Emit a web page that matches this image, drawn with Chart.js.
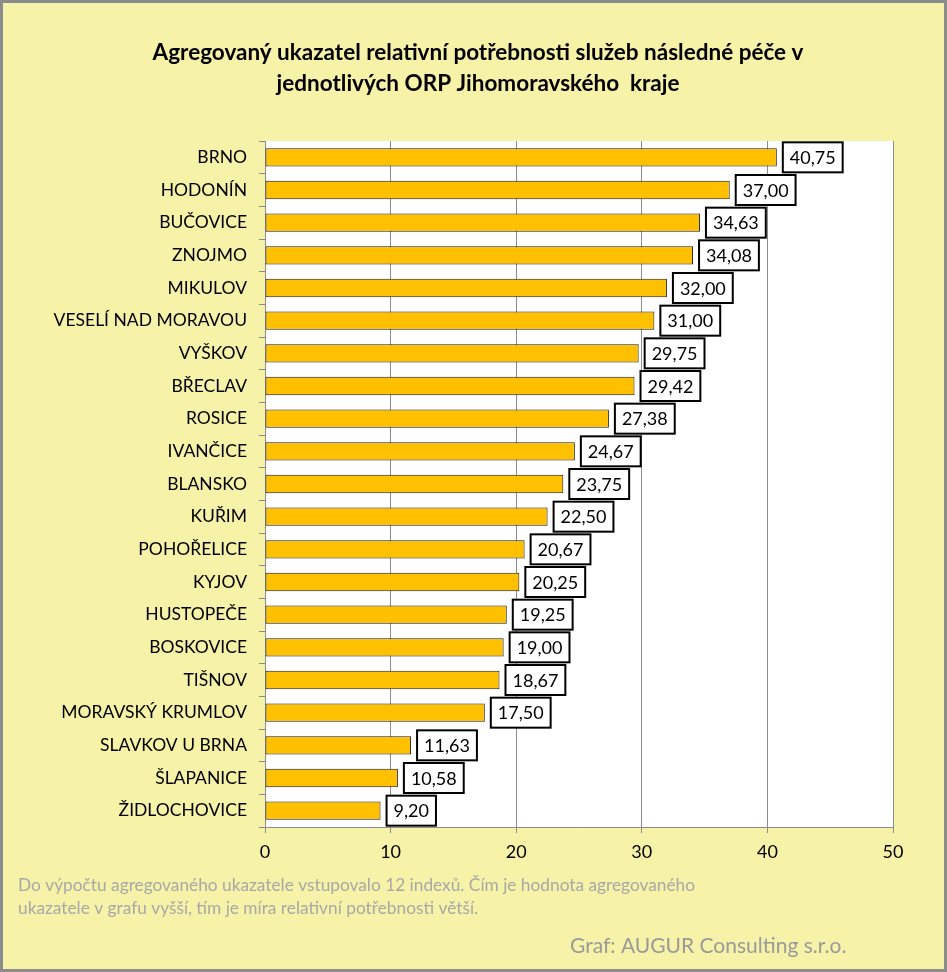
<!DOCTYPE html>
<html>
<head>
<meta charset="utf-8">
<script src="https://cdn.jsdelivr.net/npm/chart.js@4/dist/chart.umd.min.js"></script>
<style>
  html, body { margin: 0; padding: 0; background: #F6F2A8; }
  #wrap { width: 947px; height: 972px; position: relative; }
</style>
</head>
<body>
<div id="wrap"><canvas id="myChart" width="947" height="972"></canvas></div>
<script>
var categories = ['BRNO', 'HODONÍN', 'BUČOVICE', 'ZNOJMO', 'MIKULOV', 'VESELÍ NAD MORAVOU', 'VYŠKOV',
  'BŘECLAV', 'ROSICE', 'IVANČICE', 'BLANSKO', 'KUŘIM', 'POHOŘELICE', 'KYJOV', 'HUSTOPEČE',
  'BOSKOVICE', 'TIŠNOV', 'MORAVSKÝ KRUMLOV', 'SLAVKOV U BRNA', 'ŠLAPANICE', 'ŽIDLOCHOVICE'];
var values = [40.75, 37.00, 34.63, 34.08, 32.00, 31.00, 29.75, 29.42, 27.38, 24.67, 23.75,
  22.50, 20.67, 20.25, 19.25, 19.00, 18.67, 17.50, 11.63, 10.58, 9.20];
var titleLines = ['Agregovaný ukazatel relativní potřebnosti služeb následné péče v',
  'jednotlivých ORP Jihomoravského  kraje'];
var noteLines = ['Do výpočtu agregovaného ukazatele vstupovalo 12 indexů. Čím je hodnota agregovaného',
  'ukazatele v grafu vyšší, tím je míra relativní potřebnosti větší.'];
var credit = 'Graf: AUGUR Consulting s.r.o.';

var FONT = 'Lato, "Open Sans", sans-serif';

function fmt(v) { return v.toFixed(2).replace('.', ','); }

var decor = {
  id: 'decor',
  beforeDraw: function(chart) {
    var c = chart.ctx, a = chart.chartArea;
    c.save();
    c.fillStyle = '#F6F2A8';
    c.fillRect(0, 0, chart.width, chart.height);
    c.strokeStyle = '#8C8C8C';
    c.lineWidth = 3;
    c.strokeRect(1.5, 1.5, chart.width - 3, chart.height - 3);
    c.fillStyle = '#FFFFFF';
    c.fillRect(a.left, a.top, a.right - a.left, a.bottom - a.top);
    c.restore();
  },
  afterDraw: function(chart) {
    var c = chart.ctx;
    c.save();
    c.fillStyle = '#000';
    c.textAlign = 'center';
    c.textBaseline = 'middle';
    c.font = 'bold 22.5px ' + FONT;
    c.fillText(titleLines[0], 478, 53);
    c.fillText(titleLines[1], 478, 84);

    c.textAlign = 'left';
    c.fillStyle = '#A8A8A8';
    c.font = '17.3px ' + FONT;
    c.fillText(noteLines[0], 18, 885);
    c.fillText(noteLines[1], 18, 908);
    c.font = '21px ' + FONT;
    c.fillStyle = '#9A9A9A';
    c.fillText(credit, 570, 946);

    // data labels in boxes
    var meta = chart.getDatasetMeta(0);
    c.font = '18px ' + FONT;
    meta.data.forEach(function(bar, i) {
      var txt = fmt(values[i]);
      var w = c.measureText(txt).width + 14;
      var h = 30;
      var x = bar.x + 6;
      var y = bar.y - h / 2;
      c.fillStyle = '#FFFFFF';
      c.fillRect(x, y, w, h);
      c.strokeStyle = '#000';
      c.lineWidth = 2;
      c.strokeRect(x, y, w, h);
      c.fillStyle = '#000';
      c.textAlign = 'left';
      c.fillText(txt, x + 7, bar.y + 1);
    });
    c.restore();
  }
};

new Chart(document.getElementById('myChart').getContext('2d'), {
  type: 'bar',
  data: {
    labels: categories,
    datasets: [{
      data: values,
      backgroundColor: '#FFC000',
      borderColor: '#1A1A1A',
      borderWidth: 1,
      borderSkipped: false,
      barPercentage: 0.56,
      categoryPercentage: 1
    }]
  },
  plugins: [decor],
  options: {
    indexAxis: 'y',
    responsive: false,
    animation: false,
    layout: { padding: { left: 0, right: 54, top: 141, bottom: 0 } },
    plugins: { legend: { display: false }, tooltip: { enabled: false } },
    scales: {
      x: {
        min: 0, max: 50,
        ticks: { stepSize: 10, color: '#000', font: { family: FONT, size: 18 }, padding: 8 },
        grid: { color: '#8C8C8C', lineWidth: 1, tickLength: 6, tickColor: '#8C8C8C' },
        border: { display: true, color: '#8C8C8C', width: 1 },
        afterFit: function(s) { s.height = 145; }
      },
      y: {
        ticks: { color: '#000', font: { family: FONT, size: 17.5 }, padding: 12 },
        grid: { offset: true, drawOnChartArea: false, tickLength: 6, color: '#8C8C8C' },
        border: { display: true, color: '#8C8C8C', width: 1 },
        afterFit: function(s) { s.width = 265; }
      }
    }
  }
});
</script>
</body>
</html>
